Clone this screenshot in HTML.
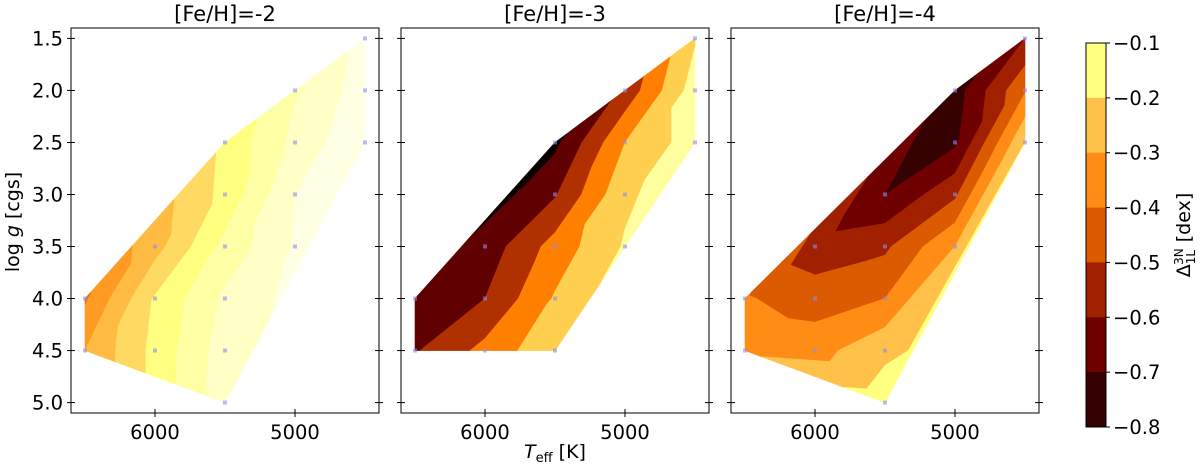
<!DOCTYPE html>
<html><head><meta charset="utf-8"><style>
body{margin:0;background:#fff;width:1200px;height:467px;overflow:hidden}
svg{display:block}
text{font-family:"DejaVu Sans","Liberation Sans",sans-serif;fill:#000}
</style></head><body>
<svg id="chart" width="1200" height="467" viewBox="0 0 1200 467" xmlns="http://www.w3.org/2000/svg"></svg>
<script>
const teff1=[6500,6500,6000,6000,6000,5500,5500,5500,5500,5500,5500,5000,5000,5000,5000,4500,4500,4500];
const logg1=[4.0,4.5,3.5,4.0,4.5,2.5,3.0,3.5,4.0,4.5,5.0,2.0,2.5,3.0,3.5,1.5,2.0,2.5];
const vals1=[0.85,2.0,2.6,4.1,4.3,4.2,4.3,5.3,6.2,6.5,6.6,5.9,6.3,7.0,7.1,7.3,7.5,7.9];
const levels1=[1,2,3,4,5,6,7];
const colors1=['#e8701a','#ff9a22','#ffbb42','#ffda62','#ffff80','#ffffa6','#ffffc6','#ffffe4'];

const teff2=[6500,6500,6000,6000,6000,5500,5500,5500,5500,5500,5000,5000,5000,5000,4500,4500,4500];
const logg2=[4.0,4.5,3.5,4.0,4.5,2.5,3.0,3.5,4.0,4.5,2.0,2.5,3.0,3.5,1.5,2.0,2.5];
const vals2=[1.15,1.9,1.4,2.0,3.3,0.75,1.9,3.4,4.1,4.8,2.3,4.0,4.8,5.1,4.9,5.5,5.5];
const levels2=[1,2,3,4,5];
const colors2=['#0a0000','#600000','#b03000','#ff8000','#ffd050','#ffffa0'];

const teff3=[6500,6500,6000,6000,6000,5500,5500,5500,5500,5500,5000,5000,5000,5000,4500,4500,4500];
const logg3=[4.0,4.5,3.5,4.0,4.5,3.0,3.5,4.0,4.5,5.0,2.0,2.5,3.0,3.5,1.5,2.0,2.5];
const vals3=[-0.39,-0.32,-0.56,-0.45,-0.34,-0.70,-0.52,-0.40,-0.22,-0.15,-0.75,-0.72,-0.52,-0.30,-0.60,-0.41,-0.20];
const levels3=[-0.7,-0.6,-0.5,-0.4,-0.3,-0.2];
const colors3=['#350000','#6e0000','#a02000','#dc5a00','#ff8c14','#ffc14a','#ffff80'];

const titles=['[Fe/H]=-2','[Fe/H]=-3','[Fe/H]=-4'];
const xTicks=[6000,5000];
const yTicks=[1.5,2.0,2.5,3.0,3.5,4.0,4.5,5.0];
const cbTicks=[-0.1,-0.2,-0.3,-0.4,-0.5,-0.6,-0.7,-0.8];

const NS='http://www.w3.org/2000/svg';
const svg=document.getElementById('chart');
const PX=[71,401,731],PY=28,PW=308,PH=385;
const X=(p,t)=>PX[p]+(6600-t)*PW/2200;
const Y=g=>PY+(g-1.4)*PH/3.7;
function mk(tag,attrs,parent){const e=document.createElementNS(NS,tag);for(const k in attrs)e.setAttribute(k,attrs[k]);(parent||svg).appendChild(e);return e;}

function delaunay(pts){
  const big=[[-5000,-5000],[5000,-5000],[0,5000]];
  const all=pts.concat(big);const n=pts.length;
  let tris=[[n,n+1,n+2]];
  function cc(t){const[a,b,c]=t.map(i=>all[i]);const d=2*(a[0]*(b[1]-c[1])+b[0]*(c[1]-a[1])+c[0]*(a[1]-b[1]));
    const ux=((a[0]**2+a[1]**2)*(b[1]-c[1])+(b[0]**2+b[1]**2)*(c[1]-a[1])+(c[0]**2+c[1]**2)*(a[1]-b[1]))/d;
    const uy=((a[0]**2+a[1]**2)*(c[0]-b[0])+(b[0]**2+b[1]**2)*(a[0]-c[0])+(c[0]**2+c[1]**2)*(b[0]-a[0]))/d;
    return [ux,uy,(a[0]-ux)**2+(a[1]-uy)**2];}
  for(let i=0;i<n;i++){const p=all[i];const bad=[],good=[];
    for(const t of tris){const c=cc(t);((p[0]-c[0])**2+(p[1]-c[1])**2<c[2]-1e-9?bad:good).push(t);}
    const edges=[];for(const t of bad)for(let k=0;k<3;k++)edges.push([t[k],t[(k+1)%3]]);
    const bnd=edges.filter(e=>edges.filter(f=>(f[0]===e[0]&&f[1]===e[1])||(f[0]===e[1]&&f[1]===e[0])).length===1);
    tris=good;for(const e of bnd)tris.push([e[0],e[1],i]);}
  return tris.filter(t=>t.every(i=>i<n));
}
function clip(poly,lev,keepAbove){const out=[];
  for(let i=0;i<poly.length;i++){const a=poly[i],b=poly[(i+1)%poly.length];
    const ia=keepAbove?a[2]>=lev:a[2]<=lev, ib=keepAbove?b[2]>=lev:b[2]<=lev;
    if(ia)out.push(a);
    if(ia!==ib){const f=(lev-a[2])/(b[2]-a[2]);out.push([a[0]+f*(b[0]-a[0]),a[1]+f*(b[1]-a[1]),lev]);}}
  return out;}

const data=[[teff1,logg1,vals1,levels1,colors1],[teff2,logg2,vals2,levels2,colors2],[teff3,logg3,vals3,levels3,colors3]];
data.forEach((d,p)=>{
  const [T,G,V,L,C]=d;
  const g=mk('g',{});
  
  
  const pts=T.map((t,i)=>[X(p,t)+i*1e-4,Y(G[i])+i*1.3e-4]);
  const tris=delaunay(pts);
  for(let b=0;b<C.length;b++){
    const lo=b===0?-Infinity:L[b-1],hi=b===L.length?Infinity:L[b];
    let dstr='';
    for(const t of tris){let poly=t.map(i=>[pts[i][0],pts[i][1],V[i]]);
      if(lo>-Infinity)poly=clip(poly,lo,true);
      if(poly.length&&hi<Infinity)poly=clip(poly,hi,false);
      if(poly.length>=3)dstr+='M'+poly.map(q=>q[0].toFixed(2)+','+q[1].toFixed(2)).join('L')+'Z';}
    if(dstr){const pa=mk('path',{d:dstr,fill:C[b],stroke:C[b],'stroke-width':0.6,'stroke-linejoin':'round'},g);
      
      }
  }
  T.forEach((t,i)=>{const r=mk('rect',{x:X(p,t)-2,y:Y(G[i])-2,width:4,height:4,fill:'#8c8cf0','fill-opacity':0.6},g);
    
    });
  const fr=mk('rect',{x:PX[p],y:PY,width:PW,height:PH,fill:'none',stroke:'#000','stroke-width':1});
  
  
  yTicks.forEach(v=>{mk('line',{x1:PX[p]-4,x2:PX[p]+4,y1:Y(v),y2:Y(v),stroke:'#000'});
    mk('line',{x1:PX[p]+PW-4,x2:PX[p]+PW+4,y1:Y(v),y2:Y(v),stroke:'#000'});
    if(p===0){const tx=mk('text',{x:PX[0]-8,y:Y(v)+7,'text-anchor':'end','font-size':19.5});tx.textContent=v.toFixed(1);
      
      }});
  xTicks.forEach(v=>{mk('line',{x1:X(p,v),x2:X(p,v),y1:PY+PH-4,y2:PY+PH+4,stroke:'#000'});
    const tx=mk('text',{x:X(p,v),y:PY+PH+26,'text-anchor':'middle','font-size':19.5});tx.textContent=v;
    
    });
  const ti=mk('text',{x:PX[p]+PW/2,y:21,'text-anchor':'middle','font-size':21});ti.textContent=titles[p];
  
  
});
// colorbar
const CBX=1086,CBY=43,CBW=20,CBH=384;
const CY=v=>CBY+(-0.1-v)/0.7*CBH;
for(let i=0;i<7;i++){const top=-0.1-i*0.1;
  const r=mk('rect',{x:CBX,y:CY(top),width:CBW,height:CBH/7+0.5,fill:colors3[6-i]});
  
  }
const cbf=mk('rect',{x:CBX,y:CBY,width:CBW,height:CBH,fill:'none',stroke:'#000'});


cbTicks.forEach(v=>{mk('line',{x1:CBX+CBW,x2:CBX+CBW+4,y1:CY(v),y2:CY(v),stroke:'#000'});
  const t=mk('text',{x:CBX+CBW+7,y:CY(v)+7,'font-size':19.5});t.textContent='\u2212'+Math.abs(v).toFixed(1);
  
  });
</script>
<svg style="position:absolute;left:0;top:0" width="1200" height="467">
<text transform="translate(19,222) rotate(-90)" text-anchor="middle" font-size="19">log <tspan font-style="italic">g</tspan> [cgs]</text>
<text x="555" y="458" text-anchor="middle" font-size="19"><tspan font-style="italic">T</tspan><tspan font-size="13" dy="4">eff</tspan><tspan dy="-4"> [K]</tspan></text>
<text transform="translate(1190,235) rotate(-90)" text-anchor="middle" font-size="19">Δ<tspan font-size="12" dy="5">1L</tspan><tspan font-size="12" dx="-15" dy="-12">3N</tspan><tspan dy="7"> [dex]</tspan></text>
</svg>
</body></html>
